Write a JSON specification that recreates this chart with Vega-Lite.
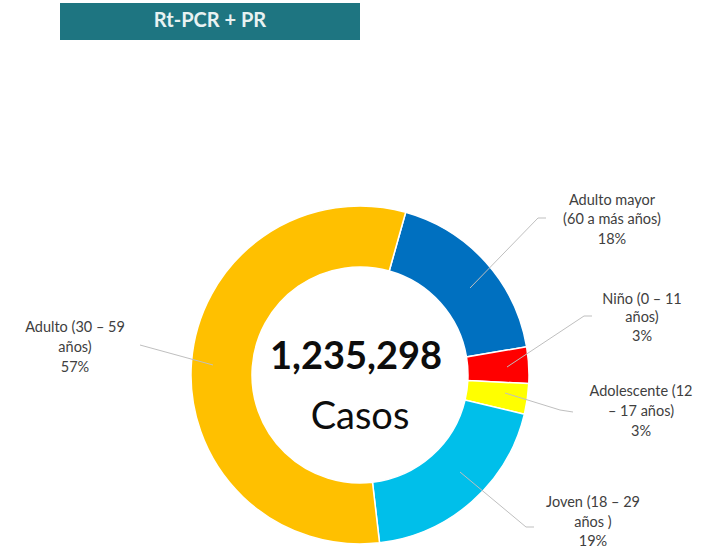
{
  "$schema": "https://vega.github.io/schema/vega-lite/v6.json",
  "width": 712,
  "height": 550,
  "autosize": {"type": "none"},
  "padding": 0,
  "background": "white",
  "config": {"view": {"stroke": null}, "font": "Lato"},
  "datasets": {
    "segments": [
      {"grupo": "Adulto mayor (60 a más años)", "casos": 222000, "orden": 1},
      {"grupo": "Niño (0 – 11 años)", "casos": 43000, "orden": 2},
      {"grupo": "Adolescente (12 – 17 años)", "casos": 36000, "orden": 3},
      {"grupo": "Joven (18 – 29 años)", "casos": 240000, "orden": 4},
      {"grupo": "Adulto (30 – 59 años)", "casos": 694298, "orden": 5}
    ],
    "labels": [
      {"texto": "Adulto mayor", "lx": 252, "ly": 174},
      {"texto": "(60 a más años)", "lx": 252, "ly": 155},
      {"texto": "18%", "lx": 252, "ly": 135},
      {"texto": "Niño (0 – 11", "lx": 282, "ly": 75},
      {"texto": "años)", "lx": 282, "ly": 57},
      {"texto": "3%", "lx": 282, "ly": 38},
      {"texto": "Adolescente (12", "lx": 281, "ly": -17},
      {"texto": "– 17 años)", "lx": 281, "ly": -37},
      {"texto": "3%", "lx": 281, "ly": -57},
      {"texto": "Joven (18 – 29", "lx": 233, "ly": -128},
      {"texto": "años )", "lx": 233, "ly": -148},
      {"texto": "19%", "lx": 233, "ly": -167},
      {"texto": "Adulto (30 – 59", "lx": -285, "ly": 47},
      {"texto": "años)", "lx": -285, "ly": 27},
      {"texto": "57%", "lx": -285, "ly": 7}
    ],
    "leaders": [
      {"g": "Adulto", "s": 1, "px": -147, "py": 10},
      {"g": "Adulto", "s": 2, "px": -220, "py": 30},
      {"g": "Mayor", "s": 1, "px": 110, "py": 87},
      {"g": "Mayor", "s": 2, "px": 178, "py": 157},
      {"g": "Mayor", "s": 3, "px": 186, "py": 157},
      {"g": "Nino", "s": 1, "px": 147, "py": 8},
      {"g": "Nino", "s": 2, "px": 224, "py": 59},
      {"g": "Nino", "s": 3, "px": 232, "py": 59},
      {"g": "Adol", "s": 1, "px": 145, "py": -18},
      {"g": "Adol", "s": 2, "px": 200, "py": -35},
      {"g": "Adol", "s": 3, "px": 213, "py": -37},
      {"g": "Joven", "s": 1, "px": 100, "py": -97},
      {"g": "Joven", "s": 2, "px": 166, "py": -152},
      {"g": "Joven", "s": 3, "px": 174, "py": -152}
    ],
    "title": [
      {"t": "Rt-PCR + PR", "x1": -300, "x2": 0, "y1": 372, "y2": 335, "tx": -150, "ty": 354}
    ],
    "number": [{"t": "1,235,298", "cx": -4, "cy": 17}],
    "casos": [{"t": "Casos", "cx": 0, "cy": -43}]
  },
  "layer": [
    {
      "data": {"name": "title"},
      "mark": {"type": "rect", "color": "#1E7581"},
      "encoding": {
        "x": {"field": "x1", "type": "quantitative", "scale": {"domain": [-360, 352], "nice": false, "zero": false}, "axis": null},
        "x2": {"field": "x2"},
        "y": {"field": "y1", "type": "quantitative", "scale": {"domain": [-175, 375], "nice": false, "zero": false}, "axis": null},
        "y2": {"field": "y2"}
      }
    },
    {
      "data": {"name": "title"},
      "mark": {"type": "text", "font": "Lato", "fontWeight": "bold", "fontSize": 20, "color": "#E8F2F2", "align": "center", "baseline": "middle"},
      "encoding": {
        "x": {"field": "tx", "type": "quantitative", "scale": {"domain": [-360, 352], "nice": false, "zero": false}, "axis": null},
        "y": {"field": "ty", "type": "quantitative", "scale": {"domain": [-175, 375], "nice": false, "zero": false}, "axis": null},
        "text": {"field": "t"}
      }
    },
    {
      "data": {"name": "segments"},
      "mark": {"type": "arc", "outerRadius": 169, "innerRadius": 108, "stroke": "white", "strokeWidth": 1.5},
      "encoding": {
        "x": {"datum": 0, "type": "quantitative", "scale": {"domain": [-360, 352], "nice": false, "zero": false}, "axis": null},
        "y": {"datum": 0, "type": "quantitative", "scale": {"domain": [-175, 375], "nice": false, "zero": false}, "axis": null},
        "theta": {"field": "casos", "type": "quantitative", "stack": true, "scale": {"range": [0.274, 6.557]}},
        "order": {"field": "orden", "type": "quantitative"},
        "color": {
          "field": "grupo", "type": "nominal", "legend": null,
          "scale": {
            "domain": ["Adulto mayor (60 a más años)", "Niño (0 – 11 años)", "Adolescente (12 – 17 años)", "Joven (18 – 29 años)", "Adulto (30 – 59 años)"],
            "range": ["#0070C0", "#FF0000", "#FFFF00", "#00BFEA", "#FFC000"]
          }
        }
      }
    },
    {
      "data": {"name": "leaders"},
      "mark": {"type": "line", "color": "#BFBFBF", "strokeWidth": 1},
      "encoding": {
        "x": {"field": "px", "type": "quantitative", "scale": {"domain": [-360, 352], "nice": false, "zero": false}, "axis": null},
        "y": {"field": "py", "type": "quantitative", "scale": {"domain": [-175, 375], "nice": false, "zero": false}, "axis": null},
        "detail": {"field": "g"},
        "order": {"field": "s", "type": "quantitative"}
      }
    },
    {
      "data": {"name": "labels"},
      "mark": {"type": "text", "font": "Lato", "fontSize": 14.5, "color": "#404040", "align": "center", "baseline": "middle"},
      "encoding": {
        "x": {"field": "lx", "type": "quantitative", "scale": {"domain": [-360, 352], "nice": false, "zero": false}, "axis": null},
        "y": {"field": "ly", "type": "quantitative", "scale": {"domain": [-175, 375], "nice": false, "zero": false}, "axis": null},
        "text": {"field": "texto"}
      }
    },
    {
      "data": {"name": "number"},
      "mark": {"type": "text", "font": "Lato", "fontWeight": "bold", "fontSize": 38, "align": "center", "baseline": "middle", "color": "#0D0D0D"},
      "encoding": {
        "x": {"field": "cx", "type": "quantitative", "scale": {"domain": [-360, 352], "nice": false, "zero": false}, "axis": null},
        "y": {"field": "cy", "type": "quantitative", "scale": {"domain": [-175, 375], "nice": false, "zero": false}, "axis": null},
        "text": {"field": "t"}
      }
    },
    {
      "data": {"name": "casos"},
      "mark": {"type": "text", "font": "Lato", "fontSize": 38, "align": "center", "baseline": "middle", "color": "#0D0D0D"},
      "encoding": {
        "x": {"field": "cx", "type": "quantitative", "scale": {"domain": [-360, 352], "nice": false, "zero": false}, "axis": null},
        "y": {"field": "cy", "type": "quantitative", "scale": {"domain": [-175, 375], "nice": false, "zero": false}, "axis": null},
        "text": {"field": "t"}
      }
    }
  ]
}
